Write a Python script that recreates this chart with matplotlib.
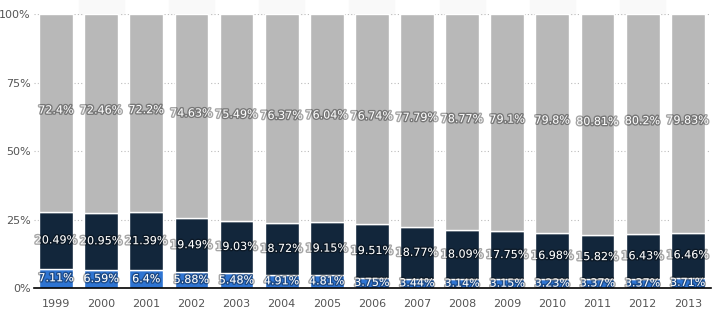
import matplotlib.pyplot as plt
import matplotlib.patheffects as pe
import numpy as np

# data
years = ["1999", "2000", "2001", "2002", "2003", "2004", "2005", "2006",
         "2007", "2008", "2009", "2010", "2011", "2012", "2013"]
blue = [7.11, 6.59, 6.4, 5.88, 5.48, 4.91, 4.81, 3.75, 3.44, 3.14, 3.15, 3.23, 3.37, 3.37, 3.71]
navy = [20.49, 20.95, 21.39, 19.49, 19.03, 18.72, 19.15, 19.51, 18.77, 18.09, 17.75, 16.98, 15.82, 16.43, 16.46]
gray = [72.4, 72.46, 72.2, 74.63, 75.49, 76.37, 76.04, 76.74, 77.79, 78.77, 79.1, 79.8, 80.81, 80.2, 79.83]

x = np.arange(len(years))
blue_a = np.array(blue)
navy_a = np.array(navy)
gray_a = np.array(gray)

fig = plt.figure(figsize=(7.23, 3.16), dpi=100)
ax = fig.add_axes([0.047, 0.0886, 0.936, 0.867])

# faint column bands above the plot
for i in x[1::2]:
    ax.axvspan(i - 0.5, i + 0.5, ymin=1.0, ymax=1.06, color="#f9f9f9", clip_on=False, zorder=0)

w = 0.75
ax.bar(x, blue_a, w, color="#2e74d2", edgecolor="white", linewidth=1, zorder=2)
ax.bar(x, navy_a, w, bottom=blue_a, color="#12263b", edgecolor="white", linewidth=1, zorder=2)
ax.bar(x, gray_a, w, bottom=blue_a + navy_a, color="#b8b8b8", edgecolor="white", linewidth=1, zorder=2)

shadow = [pe.withStroke(linewidth=2, foreground="black", alpha=0.35)]

def fmt(v):
    return f"{v:g}%"

for i in x:
    b, n, g = blue_a[i], navy_a[i], gray_a[i]
    ax.text(i, b / 2, fmt(b), ha="center", va="center", color="white", fontsize=8, path_effects=shadow, zorder=3)
    ax.text(i, b + n / 2, fmt(n), ha="center", va="center", color="white", fontsize=8, path_effects=shadow, zorder=3)
    ax.text(i, b + n + g / 2 + 1, fmt(g), ha="center", va="center", color="white", fontsize=8, path_effects=shadow, zorder=3)

ax.set_xlim(-0.49, 14.51)
ax.set_ylim(0, 100)
ax.set_yticks([0, 25, 50, 75, 100])
ax.set_yticklabels(["0%", "25%", "50%", "75%", "100%"])
ax.set_xticks(x)
ax.set_xticklabels(years)
ax.tick_params(axis="both", length=0, labelsize=8, colors="#555555")
ax.tick_params(axis="x", pad=8)
ax.tick_params(axis="y", pad=2.5)
ax.grid(axis="y", linestyle=(0, (1, 2)), color="#bbbbbb", linewidth=0.8, zorder=0)
ax.set_axisbelow(True)
for s in ["top", "right", "left"]:
    ax.spines[s].set_visible(False)
ax.spines["bottom"].set_color("black")
ax.spines["bottom"].set_linewidth(1.2)
ax.spines["bottom"].set_zorder(4)

plt.savefig("out.png", dpi=100)
